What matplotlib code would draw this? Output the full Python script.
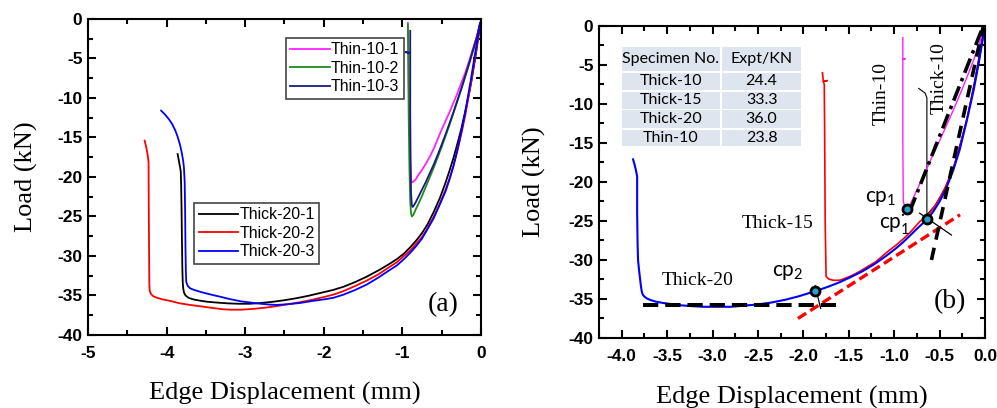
import matplotlib
matplotlib.use('Agg')
import matplotlib.pyplot as plt
from matplotlib.ticker import FixedLocator, MultipleLocator, FuncFormatter
from matplotlib.patches import Rectangle

plt.rcParams['lines.scale_dashes'] = False
plt.rcParams['mathtext.fontset'] = 'custom'
plt.rcParams['mathtext.rm'] = 'Lato'
plt.rcParams['font.family'] = ['Liberation Sans', 'DejaVu Sans']
plt.rcParams['font.weight'] = 'bold'
plt.rcParams['font.size'] = 12.5

# ---------------- Panel (a) data ----------------
thin10_1_x = [-0.93, -0.925, -0.92, -0.91, -0.90, -0.89, -0.88, -0.86, -0.83, -0.80, -0.75, -0.70, -0.65, -0.60, -0.55, -0.50,
              -0.45, -0.40, -0.35, -0.30, -0.25, -0.20, -0.15, -0.10, -0.05, -0.01]
thin10_1_y = [-0.5, -3.0, -8.0, -14.0, -18.0, -20.3, -20.7, -20.6, -20.3, -19.8, -19.1, -18.3, -17.4, -16.4, -15.2, -14.0,
              -12.9, -11.8, -10.6, -9.4, -8.1, -6.8, -5.3, -3.7, -2.1, -0.5]
thin10_2_x = [-0.93, -0.925, -0.92, -0.91, -0.90, -0.89, -0.88, -0.86, -0.83, -0.80, -0.75, -0.70, -0.65, -0.60, -0.55, -0.50,
              -0.45, -0.40, -0.35, -0.30, -0.25, -0.20, -0.15, -0.10, -0.05, -0.01]
thin10_2_y = [-0.7, -5.0, -12.0, -19.0, -23.0, -24.6, -25.0, -24.8, -24.1, -23.5, -22.4, -21.2, -20.0, -18.8, -17.5, -16.2,
              -14.8, -13.4, -11.9, -10.4, -8.9, -7.3, -5.7, -4.0, -2.3, -0.5]
thin10_3_x = [-0.90, -0.90, -0.96, -0.90, -0.90, -0.895, -0.89, -0.88, -0.87, -0.86, -0.83, -0.80, -0.75, -0.70, -0.65, -0.60,
              -0.55, -0.50, -0.45, -0.40, -0.35, -0.30, -0.25, -0.20, -0.15, -0.10, -0.05, -0.01]
thin10_3_y = [-1.5, -4.3, -4.2, -4.3, -12.0, -18.0, -22.0, -23.5, -23.8, -23.7, -23.2, -22.6, -21.6, -20.6, -19.5, -18.4,
              -17.2, -15.9, -14.6, -13.2, -11.8, -10.3, -8.8, -7.2, -5.6, -3.9, -2.2, -0.5]

thick20_1_x = [-3.86, -3.845, -3.83, -3.82, -3.815, -3.81, -3.805, -3.80, -3.795, -3.79, -3.78, -3.76, -3.72, -3.66, -3.58,
               -3.48, -3.36, -3.22, -3.08, -2.94, -2.80, -2.65, -2.50, -2.35, -2.20, -2.05, -1.88, -1.75, -1.60, -1.45,
               -1.30, -1.18, -1.07, -0.98, -0.90, -0.82, -0.75, -0.68, -0.60, -0.52, -0.45, -0.40, -0.35, -0.30, -0.25,
               -0.20, -0.16, -0.12, -0.08, -0.05, -0.02]
thick20_1_y = [-17.1, -17.9, -18.7, -19.3, -21.0, -24.0, -28.0, -31.5, -33.3, -34.0, -34.6, -35.0, -35.3, -35.5, -35.65,
               -35.8, -35.9, -36.0, -36.05, -36.05, -35.95, -35.8, -35.6, -35.35, -35.05, -34.7, -34.3, -33.9, -33.3, -32.6,
               -31.8, -31.1, -30.4, -29.7, -28.9, -28.0, -27.1, -26.0, -24.4, -22.6, -20.7, -19.2, -17.6, -15.8, -13.9,
               -11.7, -9.8, -7.8, -5.4, -3.5, -1.4]
thick20_2_x = [-4.28, -4.26, -4.245, -4.235, -4.23, -4.228, -4.225, -4.222, -4.22, -4.215, -4.20, -4.17, -4.12, -4.05, -3.95,
               -3.83, -3.70, -3.55, -3.40, -3.28, -3.19, -3.05, -2.90, -2.75, -2.60, -2.45, -2.30, -2.15, -2.00, -1.88,
               -1.75, -1.60, -1.45, -1.30, -1.18, -1.07, -0.98, -0.90, -0.82, -0.75, -0.68, -0.60, -0.52, -0.45, -0.40,
               -0.35, -0.30, -0.24, -0.20, -0.16, -0.13, -0.10, -0.07, -0.05, -0.03, -0.01]
thick20_2_y = [-15.4, -16.2, -17.0, -17.7, -18.1, -22.0, -27.0, -31.0, -33.5, -34.4, -34.8, -35.1, -35.3, -35.5, -35.7,
               -36.0, -36.2, -36.4, -36.6, -36.75, -36.8, -36.8, -36.7, -36.55, -36.35, -36.1, -35.85, -35.55, -35.2, -34.9,
               -34.45, -33.8, -33.1, -32.3, -31.5, -30.8, -30.0, -29.3, -28.4, -27.6, -26.5, -25.0, -23.3, -21.6, -20.2,
               -18.6, -16.7, -14.1, -12.2, -10.0, -8.3, -6.4, -4.5, -3.2, -1.9, -0.6]
thick20_3_x = [-4.07, -4.02, -3.97, -3.93, -3.89, -3.86, -3.83, -3.81, -3.79, -3.78, -3.775, -3.77, -3.765, -3.76, -3.755,
               -3.75, -3.73, -3.70, -3.65, -3.55, -3.41, -3.30, -3.20, -3.05, -2.85, -2.70, -2.60, -2.45, -2.30, -2.15,
               -2.00, -1.88, -1.75, -1.60, -1.45, -1.30, -1.18, -1.07, -0.98, -0.90, -0.82, -0.75, -0.68, -0.60, -0.52,
               -0.45, -0.40, -0.35, -0.30, -0.24, -0.20, -0.16, -0.13, -0.10, -0.07, -0.05, -0.03, -0.01]
thick20_3_y = [-11.6, -12.1, -12.7, -13.3, -14.1, -14.9, -15.9, -16.8, -17.9, -18.8, -19.7, -20.7, -24.0, -29.0, -32.0,
               -33.3, -33.8, -34.1, -34.3, -34.6, -34.95, -35.2, -35.45, -35.75, -36.0, -36.15, -36.2, -36.1, -35.95, -35.7,
               -35.5, -35.3, -34.9, -34.3, -33.6, -32.7, -31.9, -31.2, -30.4, -29.6, -28.7, -27.8, -26.6, -25.2, -23.4,
               -21.8, -20.3, -18.6, -16.6, -13.8, -11.8, -9.5, -7.8, -5.9, -4.1, -2.9, -1.7, -0.5]

# ---------------- Panel (b) data ----------------
b_thick20_x = [-3.875, -3.86, -3.845, -3.835, -3.83, -3.83, -3.825, -3.82, -3.81, -3.80, -3.79, -3.78, -3.77, -3.75, -3.72,
               -3.68, -3.62, -3.55, -3.46, -3.36, -3.25, -3.10, -2.95, -2.80, -2.65, -2.50, -2.35, -2.20, -2.05, -1.87,
               -1.72, -1.60, -1.48, -1.35, -1.22, -1.08, -0.98, -0.90, -0.82, -0.75, -0.69, -0.64, -0.57, -0.50, -0.43,
               -0.35, -0.28, -0.20, -0.15, -0.12, -0.09, -0.06, -0.04, -0.02, -0.005]
b_thick20_y = [-17.1, -17.7, -18.4, -19.0, -19.3, -24.0, -28.0, -30.0, -31.2, -32.2, -33.2, -34.0, -34.4, -34.7, -34.95,
               -35.15, -35.35, -35.5, -35.65, -35.8, -35.9, -36.0, -36.0, -36.0, -35.85, -35.7, -35.45, -35.1, -34.65, -34.0,
               -33.4, -32.85, -32.2, -31.45, -30.55, -29.4, -28.5, -27.7, -26.8, -26.0, -25.35, -24.8, -23.8, -22.5, -20.9,
               -18.5, -15.9, -12.1, -9.5, -7.9, -6.0, -4.1, -2.7, -1.3, -0.3]
b_thick15_x = [-1.79, -1.78, -1.74, -1.78, -1.77, -1.765, -1.76, -1.75, -1.72, -1.67, -1.60, -1.52, -1.45, -1.37, -1.30,
               -1.20, -1.08, -0.98, -0.90, -0.82, -0.72, -0.64, -0.57, -0.50, -0.43, -0.35, -0.28, -0.20, -0.15, -0.12,
               -0.09, -0.06, -0.04, -0.02, -0.005]
b_thick15_y = [-6.0, -7.1, -7.0, -7.1, -7.5, -15.0, -25.0, -32.1, -32.45, -32.6, -32.6, -32.25, -31.9, -31.4, -30.9,
               -30.2, -29.0, -28.1, -27.3, -26.4, -25.1, -24.4, -23.4, -22.1, -20.5, -18.2, -15.6, -11.9, -9.3, -7.7,
               -5.9, -4.0, -2.6, -1.2, -0.3]
b_thin10_x = [-0.905, -0.905, -0.88, -0.905, -0.905, -0.90, -0.88, -0.86, -0.83, -0.78, -0.70, -0.63, -0.57, -0.50, -0.43,
              -0.35, -0.27, -0.20, -0.13, -0.07, -0.02]
b_thin10_y = [-1.5, -4.3, -4.2, -4.3, -15.0, -22.5, -23.3, -23.5, -23.0, -21.8, -19.8, -18.0, -16.4, -14.7, -12.9,
              -10.8, -8.6, -6.6, -4.5, -2.5, -0.7]
b_thick10_x = [-0.73, -0.66, -0.64, -0.64, -0.55, -0.45, -0.35, -0.20, -0.09, -0.02]
b_thick10_y = [-8.0, -8.6, -9.2, -24.2, -23.0, -21.0, -18.3, -12.0, -5.5, -0.5]

cp_x = [-0.86, -0.635, -1.87]
cp_y = [-23.5, -24.75, -34.0]
cp_labels = ["cp$_\\mathregular{1}$", "cp$^\\mathregular{\u00b7}_\\mathregular{1}$", "cp$_\\mathregular{2}$"]
cp_label_x = [-1.15, -1.0, -2.17]
cp_label_y = [-22.1, -25.4, -31.6]

red_tangent_x = [-2.06, -0.275]
red_tangent_y = [-37.5, -24.2]
steep_dash_x = [-0.59, -0.02]
steep_dash_y = [-30.0, -0.1]
dashdot_x = [-0.83, -0.03]
dashdot_y = [-23.8, -0.3]
plateau_x = [-3.77, -1.62]
plateau_y = [-35.8, -35.8]
cross1_x = [-0.72, -0.37]
cross1_y = [-24.0, -26.8]
cross2_x = [-1.87, -1.81]
cross2_y = [-33.3, -36.2]

table_specimens = ['Thick-10', 'Thick-15', 'Thick-20', 'Thin-10']
table_expt = [24.4, 33.3, 36.0, 23.8]
table_header = ['Specimen No.', 'Expt/KN']

xticks_a = [-5, -4, -3, -2, -1, 0]
xticks_b = [-4.0, -3.5, -3.0, -2.5, -2.0, -1.5, -1.0, -0.5, 0.0]
yticks = [-40, -35, -30, -25, -20, -15, -10, -5, 0]

# ---------------- Figure ----------------
fig = plt.figure(figsize=(9.97, 4.08), dpi=100)
axa = fig.add_axes([0.0883, 0.179, 0.3941, 0.7745])
axb = fig.add_axes([0.6008, 0.1716, 0.3872, 0.7647])

serif = 'Liberation Serif'


def style(ax, xt, xminor, fmt, ylp, xlp):
    ax.set_ylim(-40, 0)
    ax.xaxis.set_major_locator(FixedLocator(xt))
    ax.xaxis.set_minor_locator(MultipleLocator(xminor))
    ax.yaxis.set_major_locator(FixedLocator(yticks))
    ax.yaxis.set_minor_locator(MultipleLocator(2.5))
    ax.xaxis.set_major_formatter(FuncFormatter(fmt))
    ax.yaxis.set_major_formatter(FuncFormatter(lambda v, p: '%d' % round(v)))
    ax.tick_params(which='both', direction='in', top=True, right=True, width=1.5, colors='black',
                   labelsize=12.5)
    ax.tick_params(which='major', length=6)
    ax.tick_params(which='minor', length=3.5)
    ax.tick_params(axis='x', pad=8)
    ax.tick_params(axis='y', pad=4)
    for s in ax.spines.values():
        s.set_linewidth(1.5)
    ax.set_xlabel('Edge Displacement (mm)', family=serif, weight='normal', size=19, labelpad=xlp)
    ax.set_ylabel('Load (kN)', family=serif, weight='normal', size=19, labelpad=ylp)


# Panel (a)
l1, = axa.plot(thin10_1_x, thin10_1_y, color='#ff22ff', lw=1.3, label='Thin-10-1')
l2, = axa.plot(thin10_2_x, thin10_2_y, color='#1f8a1f', lw=1.3, label='Thin-10-2')
l3, = axa.plot(thin10_3_x, thin10_3_y, color='#1a1a80', lw=1.3, label='Thin-10-3')
k1, = axa.plot(thick20_1_x, thick20_1_y, color='black', lw=1.3, label='Thick-20-1')
k2, = axa.plot(thick20_2_x, thick20_2_y, color='#ff0000', lw=1.3, label='Thick-20-2')
k3, = axa.plot(thick20_3_x, thick20_3_y, color='#0000ff', lw=1.3, label='Thick-20-3')
axa.set_xlim(-5, 0)
style(axa, xticks_a, 0.5, lambda v, p: '%d' % round(v), 14, 15)

leg_kw = dict(loc='upper left', prop={'family': 'Liberation Sans', 'size': 11.4, 'weight': 'normal'},
              handlelength=2.5, handletextpad=0.05, borderpad=0.3, labelspacing=0.22, frameon=True,
              fancybox=False, edgecolor='#444444', framealpha=1, borderaxespad=0)
leg1 = axa.legend(handles=[l1, l2, l3], bbox_to_anchor=(0.503, 0.941), **leg_kw)
leg1.get_frame().set_linewidth(1.2)
axa.add_artist(leg1)
leg2 = axa.legend(handles=[k1, k2, k3], bbox_to_anchor=(0.27, 0.419), **leg_kw)
leg2.get_frame().set_linewidth(1.2)
axa.text(-0.48, -36.2, '(a)', family=serif, weight='normal', size=20, ha='center', va='center')

# Panel (b)
axb.plot(b_thick10_x, b_thick10_y, color='black', lw=0.8)
axb.plot(b_thin10_x, b_thin10_y, color='#ff22ff', lw=1.0)
axb.plot(b_thick15_x, b_thick15_y, color='#ff0000', lw=1.2)
axb.plot(b_thick20_x, b_thick20_y, color='#0000ff', lw=1.5)
axb.plot(red_tangent_x, red_tangent_y, color='#ff0000', lw=2.4, dashes=(7, 3.5))
axb.plot(plateau_x, plateau_y, color='black', lw=2.9, dashes=(11, 5))
axb.plot(steep_dash_x, steep_dash_y, color='black', lw=2.6, dashes=(9, 6))
axb.plot(dashdot_x, dashdot_y, color='black', lw=2.6, dashes=(11, 4, 2.5, 4))
axb.plot(cross1_x, cross1_y, color='black', lw=0.9)
axb.plot(cross2_x, cross2_y, color='black', lw=0.9)
axb.plot(cp_x, cp_y, ls='none', marker='o', ms=6.5, mfc='#2b9fc9', mec='black', mew=2.0, zorder=5)
for lx, ly, t in zip(cp_label_x, cp_label_y, cp_labels):
    axb.text(lx, ly, t, family='Lato', weight='normal', size=15, ha='center', va='center')

axb.text(-1.14, -8.6, 'Thin-10', family=serif, weight='normal', size=14, rotation=90, ha='center', va='center')
axb.text(-0.51, -6.7, 'Thick-10', family=serif, weight='normal', size=14, rotation=90, ha='center', va='center')
axb.text(-2.28, -25.3, 'Thick-15', family=serif, weight='normal', size=14, ha='center', va='center')
axb.text(-3.16, -32.6, 'Thick-20', family=serif, weight='normal', size=14, ha='center', va='center')
axb.text(-0.39, -35.3, '(b)', family=serif, weight='normal', size=20, ha='center', va='center')
axb.set_xlim(-4.25, 0)
style(axb, xticks_b, 0.25, lambda v, p: '%.1f' % v if abs(v) > 1e-9 else '0.0', 16, 16)

# Table
col_edges = [(0.0588, 0.3135), (0.3187, 0.5233)]
row_edges = [(0.8558, 0.9337), (0.7949, 0.8503), (0.7340, 0.7894), (0.6740, 0.7308), (0.6154, 0.6676)]
rows = [table_header] + [[s, '%.1f' % v] for s, v in zip(table_specimens, table_expt)]
for (y0, y1), row in zip(row_edges, rows):
    for (x0, x1), txt in zip(col_edges, row):
        axb.add_patch(Rectangle((x0, y0), x1 - x0, y1 - y0, transform=axb.transAxes,
                                facecolor='#dfe5ef', edgecolor='none', zorder=1))
        axb.text((x0 + x1) / 2, (y0 + y1) / 2, txt, transform=axb.transAxes, family='Lato',
                 weight='normal', size=11.5, ha='center', va='center', zorder=2)

fig.savefig('out.png', dpi=100)
